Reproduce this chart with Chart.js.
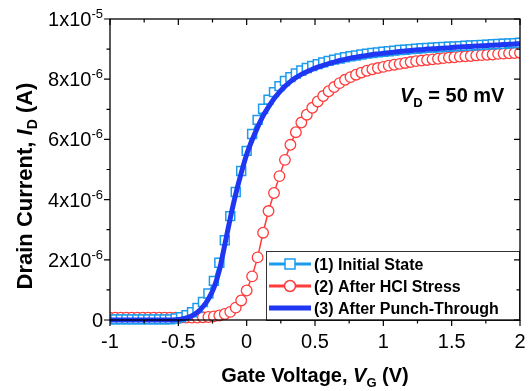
<!DOCTYPE html>
<html>
<head>
<meta charset="utf-8">
<script src="https://cdn.jsdelivr.net/npm/chart.js@4.4.1/dist/chart.umd.min.js"></script>
<style>
  html, body { margin: 0; padding: 0; background: #fff; }
  #wrap { width: 530px; height: 391px; position: relative; }
</style>
</head>
<body>
<div id="wrap"><canvas id="chart"></canvas></div>
<script>
// gate voltage sweep (V)
const gateV = [
  -1.00, -0.96, -0.92, -0.88, -0.84, -0.80, -0.76, -0.72, -0.68, -0.64, -0.60, -0.56, -0.52,
  -0.48, -0.44, -0.40, -0.36, -0.32, -0.28, -0.24, -0.20, -0.16, -0.12, -0.08, -0.04,
  0.00, 0.04, 0.08, 0.12, 0.16, 0.20, 0.24, 0.28, 0.32, 0.36, 0.40, 0.44, 0.48, 0.52, 0.56,
  0.60, 0.64, 0.68, 0.72, 0.76, 0.80, 0.84, 0.88, 0.92, 0.96, 1.00, 1.04, 1.08, 1.12, 1.16,
  1.20, 1.24, 1.28, 1.32, 1.36, 1.40, 1.44, 1.48, 1.52, 1.56, 1.60, 1.64, 1.68, 1.72, 1.76,
  1.80, 1.84, 1.88, 1.92, 1.96, 2.00
];

// drain current, in units of 1e-6 A
const initialState = [
  0.02, 0.02, 0.02, 0.02, 0.02, 0.02, 0.02, 0.02, 0.02, 0.02, 0.02, 0.02, 0.05,
  0.09, 0.16, 0.26, 0.40, 0.60, 0.88, 1.30, 1.90, 2.65, 3.45, 4.25, 4.95,
  5.62, 6.18, 6.65, 7.02, 7.32, 7.57, 7.77, 7.94, 8.07, 8.19, 8.29, 8.37, 8.44, 8.50, 8.56,
  8.61, 8.65, 8.69, 8.73, 8.76, 8.79, 8.82, 8.85, 8.87, 8.89, 8.91, 8.93, 8.95, 8.97, 8.98,
  9.00, 9.01, 9.03, 9.04, 9.05, 9.06, 9.07, 9.08, 9.09, 9.10, 9.11, 9.12, 9.13, 9.14, 9.15,
  9.16, 9.17, 9.18, 9.19, 9.20, 9.21
];
const afterHCI = [
  0.08, 0.08, 0.08, 0.08, 0.08, 0.08, 0.08, 0.08, 0.08, 0.08, 0.08, 0.08, 0.08,
  0.08, 0.08, 0.08, 0.08, 0.09, 0.10, 0.12, 0.15, 0.20, 0.27, 0.41, 0.65,
  0.98, 1.45, 2.08, 2.90, 3.62, 4.22, 4.78, 5.32, 5.82, 6.24, 6.56, 6.82, 7.05, 7.26, 7.44,
  7.60, 7.74, 7.87, 7.98, 8.07, 8.15, 8.22, 8.28, 8.33, 8.37, 8.41, 8.45, 8.48, 8.51, 8.54,
  8.57, 8.60, 8.62, 8.64, 8.66, 8.68, 8.70, 8.72, 8.73, 8.75, 8.76, 8.77, 8.79, 8.80, 8.81,
  8.82, 8.84, 8.85, 8.86, 8.87, 8.88
];
const afterPunch = [
  0.00, 0.00, 0.00, 0.00, 0.00, 0.00, 0.00, 0.00, 0.00, 0.00, 0.00, 0.00, 0.01,
  0.03, 0.07, 0.14, 0.26, 0.44, 0.70, 1.07, 1.65, 2.50, 3.38, 4.18, 4.88,
  5.50, 5.98, 6.40, 6.78, 7.08, 7.35, 7.57, 7.76, 7.92, 8.05, 8.16, 8.25, 8.33, 8.40, 8.46,
  8.52, 8.57, 8.62, 8.66, 8.70, 8.73, 8.76, 8.79, 8.82, 8.84, 8.86, 8.88, 8.90, 8.92, 8.94,
  8.95, 8.97, 8.98, 9.00, 9.01, 9.02, 9.03, 9.04, 9.06, 9.07, 9.08, 9.09, 9.10, 9.11, 9.12,
  9.13, 9.14, 9.15, 9.16, 9.17, 9.18
];

const seriesNames = ['(1) Initial State', '(2) After HCI Stress', '(3) After Punch-Through'];

const xTicks = [-1, -0.5, 0, 0.5, 1, 1.5, 2];
const xTickLabels = ['-1', '-0.5', '0', '0.5', '1', '1.5', '2'];
const xMinor = [-0.75, -0.25, 0.25, 0.75, 1.25, 1.75];
const yTicks = [0, 2, 4, 6, 8, 10];
const yTickBase = ['0', '2x10', '4x10', '6x10', '8x10', '1x10'];
const yTickExp = ['', '-6', '-6', '-6', '-6', '-5'];
const yMinor = [1, 3, 5, 7, 9];

const FONT = "'Liberation Sans', Arial, sans-serif";
const C_INIT = '#1c9bec';
const C_HCI = '#ff3b3b';
const C_PUNCH = '#1f36f2';

function pts(ys) {
  return gateV.map((v, i) => ({ x: v, y: ys[i] }));
}

// draw a run of text pieces with different fonts / baseline shifts
function richText(ctx, parts, x, y, align) {
  let w = 0;
  parts.forEach(p => { ctx.font = p.font; w += ctx.measureText(p.t).width; });
  let cx = align === 'center' ? x - w / 2 : align === 'right' ? x - w : x;
  parts.forEach(p => {
    ctx.font = p.font;
    ctx.fillText(p.t, cx, y + (p.dy || 0));
    cx += ctx.measureText(p.t).width;
  });
}

const axisFrame = {
  id: 'axisFrame',
  afterDraw(chart) {
    const ctx = chart.ctx;
    const { left, right, top, bottom } = chart.chartArea;
    const xs = chart.scales.x, ys = chart.scales.y;
    ctx.save();
    ctx.fillStyle = '#000';
    ctx.textAlign = 'left';
    ctx.textBaseline = 'alphabetic';

    // legend
    const lx = right - 254, ly = bottom - 69, lw = 253, lh = 69;
    ctx.fillStyle = '#fff';
    ctx.fillRect(lx, ly, lw, lh);
    ctx.strokeStyle = '#333';
    ctx.lineWidth = 1;
    ctx.strokeRect(lx + 0.5, ly + 0.5, lw, lh);
    const rows = [13, 35, 57];
    rows.forEach((dy, i) => {
      const cy = ly + dy;
      const mx = lx + 24;
      const color = [C_INIT, C_HCI, C_PUNCH][i];
      ctx.strokeStyle = color;
      ctx.lineWidth = i === 2 ? 5 : 3;
      ctx.beginPath();
      ctx.moveTo(lx + 3, cy);
      ctx.lineTo(lx + 45, cy);
      ctx.stroke();
      ctx.lineWidth = 1.5;
      ctx.fillStyle = '#fff';
      if (i === 0) {
        ctx.fillRect(mx - 5, cy - 5, 10, 10);
        ctx.strokeRect(mx - 5, cy - 5, 10, 10);
      } else if (i === 1) {
        ctx.beginPath();
        ctx.arc(mx, cy, 5.5, 0, Math.PI * 2);
        ctx.fill();
        ctx.stroke();
      }
      ctx.fillStyle = '#000';
      ctx.font = 'bold 16px ' + FONT;
      ctx.fillText(seriesNames[i], lx + 48, cy + 6);
    });

    // frame
    ctx.strokeStyle = '#000';
    ctx.lineWidth = 1.3;
    ctx.strokeRect(left, top, right - left, bottom - top);

    // x ticks: outward at bottom, inward at top
    ctx.lineWidth = 1.2;
    ctx.beginPath();
    xTicks.forEach(v => {
      const px = xs.getPixelForValue(v);
      ctx.moveTo(px, bottom); ctx.lineTo(px, bottom + 6);
      ctx.moveTo(px, top); ctx.lineTo(px, top + 6);
    });
    xMinor.forEach(v => {
      const px = xs.getPixelForValue(v);
      ctx.moveTo(px, bottom); ctx.lineTo(px, bottom + 3.5);
      ctx.moveTo(px, top); ctx.lineTo(px, top + 3.5);
    });
    // y ticks: outward at left, inward at right
    yTicks.forEach(v => {
      const py = ys.getPixelForValue(v);
      ctx.moveTo(left, py); ctx.lineTo(left - 6, py);
      ctx.moveTo(right, py); ctx.lineTo(right - 6, py);
    });
    yMinor.forEach(v => {
      const py = ys.getPixelForValue(v);
      ctx.moveTo(left, py); ctx.lineTo(left - 3.5, py);
      ctx.moveTo(right, py); ctx.lineTo(right - 3.5, py);
    });
    ctx.stroke();

    // tick labels
    ctx.fillStyle = '#000';
    ctx.font = '20px ' + FONT;
    ctx.textAlign = 'center';
    xTicks.forEach((v, i) => {
      ctx.fillText(xTickLabels[i], xs.getPixelForValue(v), bottom + 28);
    });
    ctx.textAlign = 'left';
    yTicks.forEach((v, i) => {
      const py = ys.getPixelForValue(v);
      richText(ctx, [
        { t: yTickBase[i], font: '20px ' + FONT },
        { t: yTickExp[i], font: '13px ' + FONT, dy: -8 }
      ], left - 7, py + 7, 'right');
    });

    // axis titles
    richText(ctx, [
      { t: 'Gate Voltage, ', font: 'bold 20px ' + FONT },
      { t: 'V', font: 'italic bold 20px ' + FONT },
      { t: 'G', font: 'bold 13px ' + FONT, dy: 5 },
      { t: ' (V)', font: 'bold 20px ' + FONT }
    ], (left + right) / 2, 382, 'center');

    ctx.save();
    ctx.translate(32, 186);
    ctx.rotate(-Math.PI / 2);
    richText(ctx, [
      { t: 'Drain Current, ', font: 'bold 22px ' + FONT },
      { t: 'I', font: 'italic bold 22px ' + FONT },
      { t: 'D', font: 'bold 14px ' + FONT, dy: 5 },
      { t: ' (A)', font: 'bold 22px ' + FONT }
    ], 0, 0, 'center');
    ctx.restore();

    // annotation
    richText(ctx, [
      { t: 'V', font: 'italic bold 20px ' + FONT },
      { t: 'D', font: 'bold 13px ' + FONT, dy: 5 },
      { t: ' = 50 mV', font: 'bold 20px ' + FONT }
    ], 400, 102, 'left');

    ctx.restore();
  }
};

new Chart(document.getElementById('chart'), {
  type: 'scatter',
  data: {
    datasets: [
      {
        label: seriesNames[2],
        data: pts(afterPunch),
        showLine: true,
        borderColor: C_PUNCH,
        borderWidth: 5,
        pointRadius: 0,
        tension: 0.3,
        order: 0,
        clip: { left: 0, top: 0, right: 0, bottom: 6 }
      },
      {
        label: seriesNames[0],
        data: pts(initialState),
        showLine: true,
        borderColor: C_INIT,
        borderWidth: 1.5,
        pointStyle: 'rect',
        pointRadius: 6.3,
        pointBorderWidth: 1.5,
        pointBorderColor: C_INIT,
        pointBackgroundColor: '#fff',
        order: 1,
        clip: { left: 0, top: 0, right: 0, bottom: 6 }
      },
      {
        label: seriesNames[1],
        data: pts(afterHCI),
        showLine: true,
        borderColor: C_HCI,
        borderWidth: 1.5,
        pointStyle: 'circle',
        pointRadius: 5.3,
        pointBorderWidth: 1.3,
        pointBorderColor: C_HCI,
        pointBackgroundColor: '#fff',
        order: 2,
        clip: { left: 0, top: 0, right: 0, bottom: 6 }
      }
    ]
  },
  options: {
    responsive: true,
    maintainAspectRatio: false,
    animation: false,
    layout: { padding: { left: 110, top: 19, right: 10, bottom: 71 } },
    plugins: { legend: { display: false }, tooltip: { enabled: false } },
    scales: {
      x: { type: 'linear', min: -1, max: 2, display: false },
      y: { type: 'linear', min: 0, max: 10, display: false }
    }
  },
  plugins: [axisFrame]
});
</script>
</body>
</html>
